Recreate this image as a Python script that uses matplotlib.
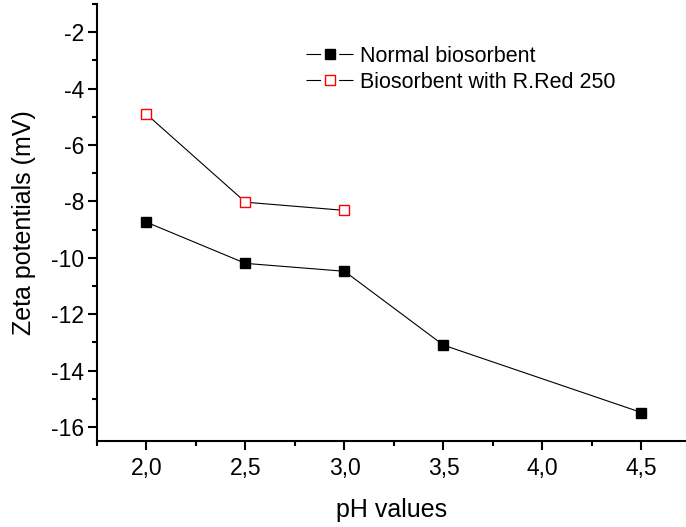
import matplotlib.pyplot as plt
from matplotlib.lines import Line2D
from matplotlib.ticker import FuncFormatter, MultipleLocator

plt.rcParams["font.family"] = ["Liberation Sans", "DejaVu Sans"]
plt.rcParams["lines.scale_dashes"] = False

ph_normal = [2.0, 2.5, 3.0, 3.5, 4.5]
zeta_normal = [-8.74, -10.2, -10.48, -13.1, -15.49]

ph_red = [2.0, 2.5, 3.0]
zeta_red = [-4.91, -8.03, -8.32]

fig = plt.figure(figsize=(6.86, 5.27), dpi=100)
ax = fig.add_axes([97 / 686, (527 - 441) / 527, (686 - 97) / 686, (441 - 4) / 527])

ax.plot(ph_normal, zeta_normal, color="black", linewidth=0.8, marker="s",
        markersize=6.5, markerfacecolor="black", markeredgecolor="black")
ax.plot(ph_red, zeta_red, color="black", linewidth=0.8, marker="s",
        markersize=6.5, markerfacecolor="white", markeredgecolor="red",
        markeredgewidth=1.0)

ax.set_xlim(1.75, 4.725)
ax.set_ylim(-16.5, -1.0)
ax.xaxis.set_major_locator(MultipleLocator(0.5))
ax.xaxis.set_minor_locator(MultipleLocator(0.25))
ax.yaxis.set_major_locator(MultipleLocator(2))
ax.yaxis.set_minor_locator(MultipleLocator(1))
ax.xaxis.set_major_formatter(FuncFormatter(lambda v, p: f"{v:.1f}".replace(".", ",")))
ax.yaxis.set_major_formatter(FuncFormatter(lambda v, p: f"{v:.0f}"))

for s in ("top", "right"):
    ax.spines[s].set_visible(False)
for s in ("left", "bottom"):
    ax.spines[s].set_linewidth(1.5)

ax.tick_params(which="major", direction="out", length=6.5, width=1.5, labelsize=16.5)
ax.tick_params(axis="y", which="major", pad=2.5)
ax.tick_params(axis="x", which="major", pad=5)
ax.tick_params(which="minor", direction="out", length=3.5, width=1.5)

ax.set_xlabel("pH values", fontsize=18, labelpad=13)
ax.set_ylabel("Zeta potentials (mV)", fontsize=18, labelpad=11)

# legend handles in the Origin style: line broken around the marker
gap_dash = (0, (10.5, 13, 10.5, 0))
handles = [
    Line2D([], [], color="black", linewidth=0.8, linestyle=gap_dash, marker="s",
           markersize=6.5, markerfacecolor="black", markeredgecolor="black"),
    Line2D([], [], color="black", linewidth=0.8, linestyle=gap_dash, marker="s",
           markersize=6.5, markerfacecolor="white", markeredgecolor="red",
           markeredgewidth=1.0),
]
ax.legend(handles, ["Normal biosorbent", "Biosorbent with R.Red 250"],
          loc="upper left", bbox_to_anchor=(0.34, 0.924), frameon=False,
          fontsize=15.5, handlelength=2.2, handletextpad=0.3, labelspacing=0.22,
          borderaxespad=0)

fig.savefig("out.png", dpi=100)
